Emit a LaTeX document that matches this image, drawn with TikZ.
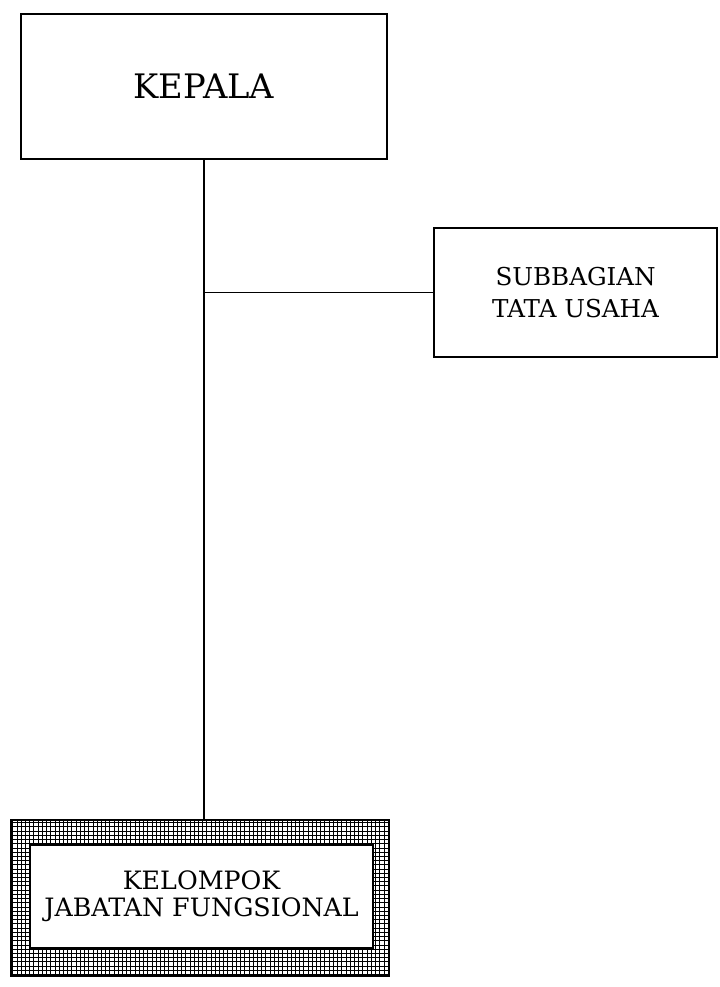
\documentclass[tikz,border=0pt]{standalone}
\usepackage{fontspec}
\setmainfont{DejaVu Serif}
\usetikzlibrary{patterns}
\begin{document}
\begin{tikzpicture}[line width=1pt, align=center]
    \useasboundingbox (0,0) rectangle (17.975,-24.675);

    % Kepala
    \node[draw, minimum width=9.15cm, minimum height=3.625cm, font=\fontsize{24}{28}\selectfont] (kepala) at (5.1,-2.16) {KEPALA};

    % Subbagian
    \node[draw, minimum width=7.075cm, minimum height=3.225cm, font=\fontsize{17.5}{23}\selectfont] (subbagian) at (14.39,-7.31) {SUBBAGIAN\\TATA USAHA};

    % Kelompok jabatan fungsional
    \node[draw, line width=1.2pt, pattern=grid, pattern color=black, minimum width=9.45cm, minimum height=3.9cm] (luar) at (5.0,-22.45) {};
    \node[draw, fill=white, minimum width=8.575cm, minimum height=2.575cm, font=\fontsize{18}{19.5}\selectfont] (kelompok) at (5.04,-22.41) {KELOMPOK\\JABATAN FUNGSIONAL};

    % Garis
    \coordinate (cabang) at (kepala.south |- subbagian.west);
    \draw (kepala.south) -- (kepala.south |- luar.north);
    \draw (cabang) -- (subbagian);
\end{tikzpicture}
\end{document}
